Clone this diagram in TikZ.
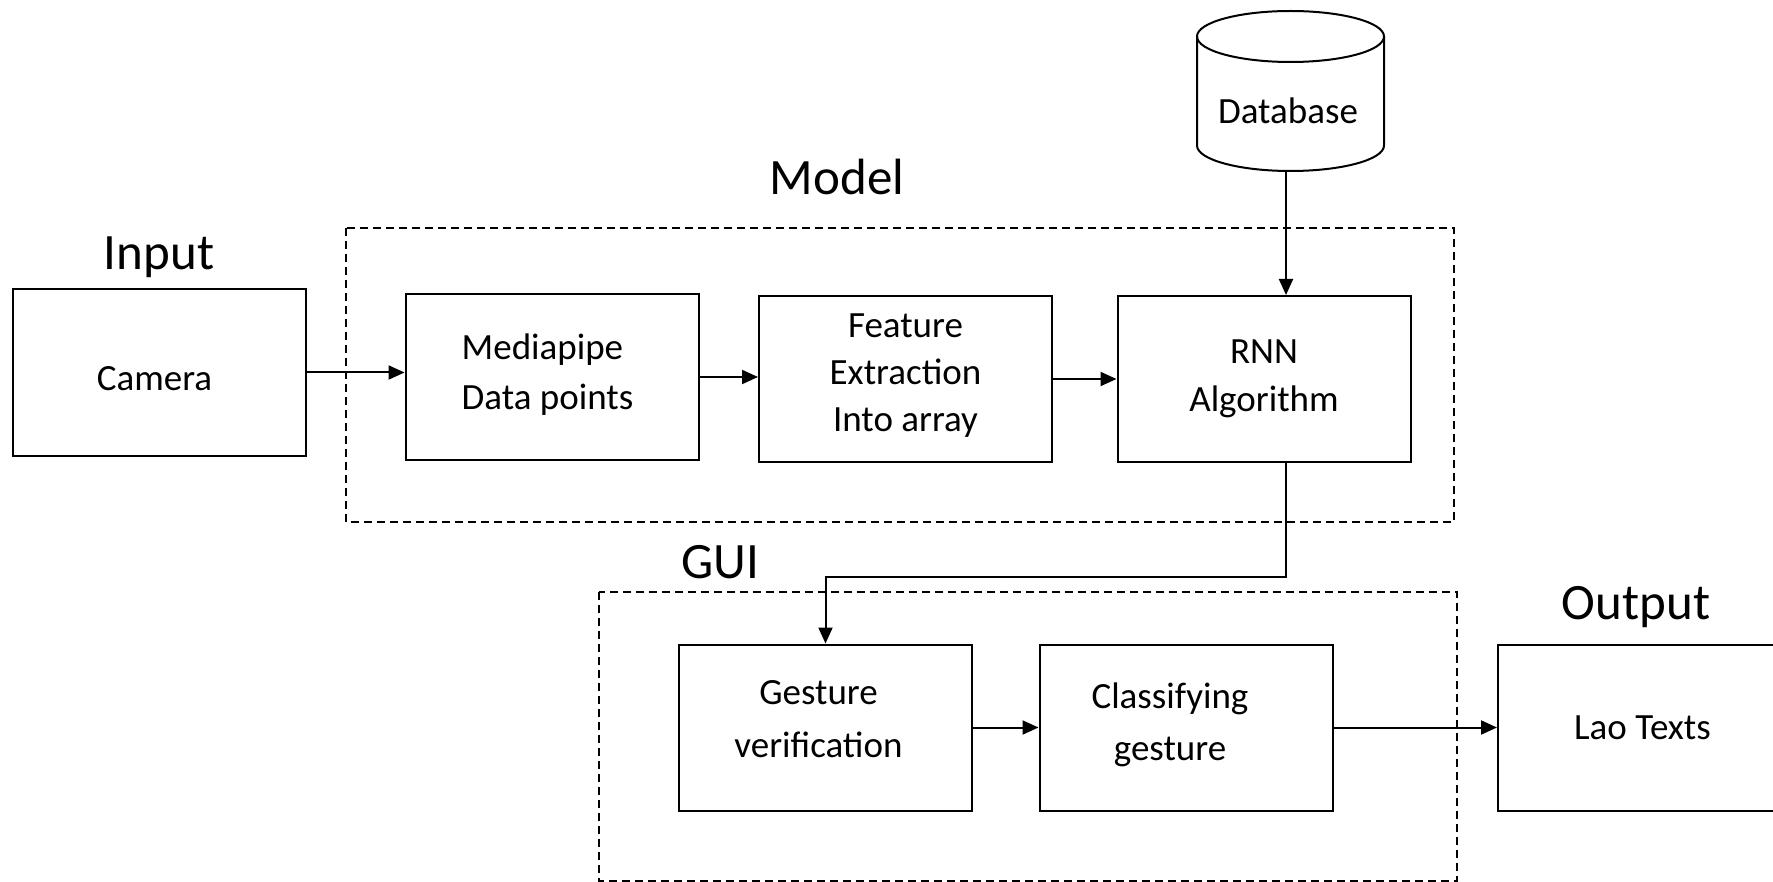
\documentclass[tikz,border=0pt]{standalone}
\usepackage{fontspec}
\setmainfont{Carlito}
\usetikzlibrary{arrows.meta,calc}
\begin{document}
\begin{tikzpicture}[x=0.5pt,y=-0.5pt,
  blk/.style={draw, line width=1pt, minimum width=146.5pt, minimum height=83pt, inner sep=0pt},
  txt/.style={inner sep=0pt, align=center, font=\fontsize{18.5}{#1}\selectfont},
  txt/.default={24.5},
  grp/.style={draw, dash pattern=on 4pt off 2.5pt, line width=0.8pt},
  ttl/.style={font=\fontsize{25.5}{30}\selectfont, anchor=base, inner sep=0pt},
  arr/.style={line width=1pt, -{Triangle[length=8pt,width=7pt]}}]
\useasboundingbox (0,0) rectangle (1773,882);
\clip (0,0) rectangle (1773,882);
\fill[white] (0,0) rectangle (1773,882);

% group frames
\draw[grp] (346,228) rectangle (1454,522);
\draw[grp] (599,592) rectangle (1457,881);

% titles
\node[ttl] (tin) at (159,270) {Input};
\node[ttl] (tmod) at (837,195) {Model};
\node[ttl] (tgui) at (720,578) {GUI};
\node[ttl] (tout) at (1636,619) {Output};

% boxes
\node[blk] (cam) at (159.5,372.5) {};
\node[blk] (mp) at (552,377) {};
\node[blk] (fe) at (905.5,379) {};
\node[blk] (rnn) at (1264,379) {};
\node[blk] (ges) at (825.5,727.5) {};
\node[blk] (cls) at (1186,727.5) {};
\node[blk] (lao) at (1644.5,727.5) {};

% box texts
\node[txt] (camt) at ($(cam)+(-5,6)$) {Camera};
\node[txt={25}, align=left] (mpt) at ($(mp)+(-4.5,-2)$) {Mediapipe\\Data points};
\node[txt={23.5}] (fet) at ($(fe)+(0,-3)$) {Feature\\Extraction\\Into array};
\node[txt={23.75}] (rnnt) at (rnn) {RNN\\Algorithm};
\node[txt={26.5}] (gest) at ($(ges)+(-7,-8.5)$) {Gesture\\verification};
\node[txt={26}] (clst) at ($(cls)+(-16,-3)$) {Classifying\\gesture};
\node[txt] (laot) at ($(lao)+(-2,0)$) {Lao Texts};

% database cylinder
\draw[line width=1pt] (1197,36.5) -- (1197,145.5)
  arc[start angle=180, end angle=0, x radius=93.5, y radius=25.5] -- (1384,36.5);
\draw[line width=1pt] (1290.5,36.5) ellipse[x radius=93.5, y radius=25.5];
\node[txt, anchor=base] (db) at (1288,124) {Database};
\coordinate (dbb) at (1286,171);
\coordinate (bend) at (1286,577);

% connectors
\draw[arr] (cam.east) -- (cam.east -| mp.west);
\draw[arr] (mp.east) -- (mp.east -| fe.west);
\draw[arr] (fe.east) -- (fe.east -| rnn.west);
\draw[arr] (dbb) -- (dbb |- rnn.north);
\draw[arr] (bend |- rnn.south) -- (bend) -| (ges.north);
\draw[arr] (ges.east) -- (ges.east -| cls.west);
\draw[arr] (cls.east) -- (cls.east -| lao.west);
\end{tikzpicture}
\end{document}
